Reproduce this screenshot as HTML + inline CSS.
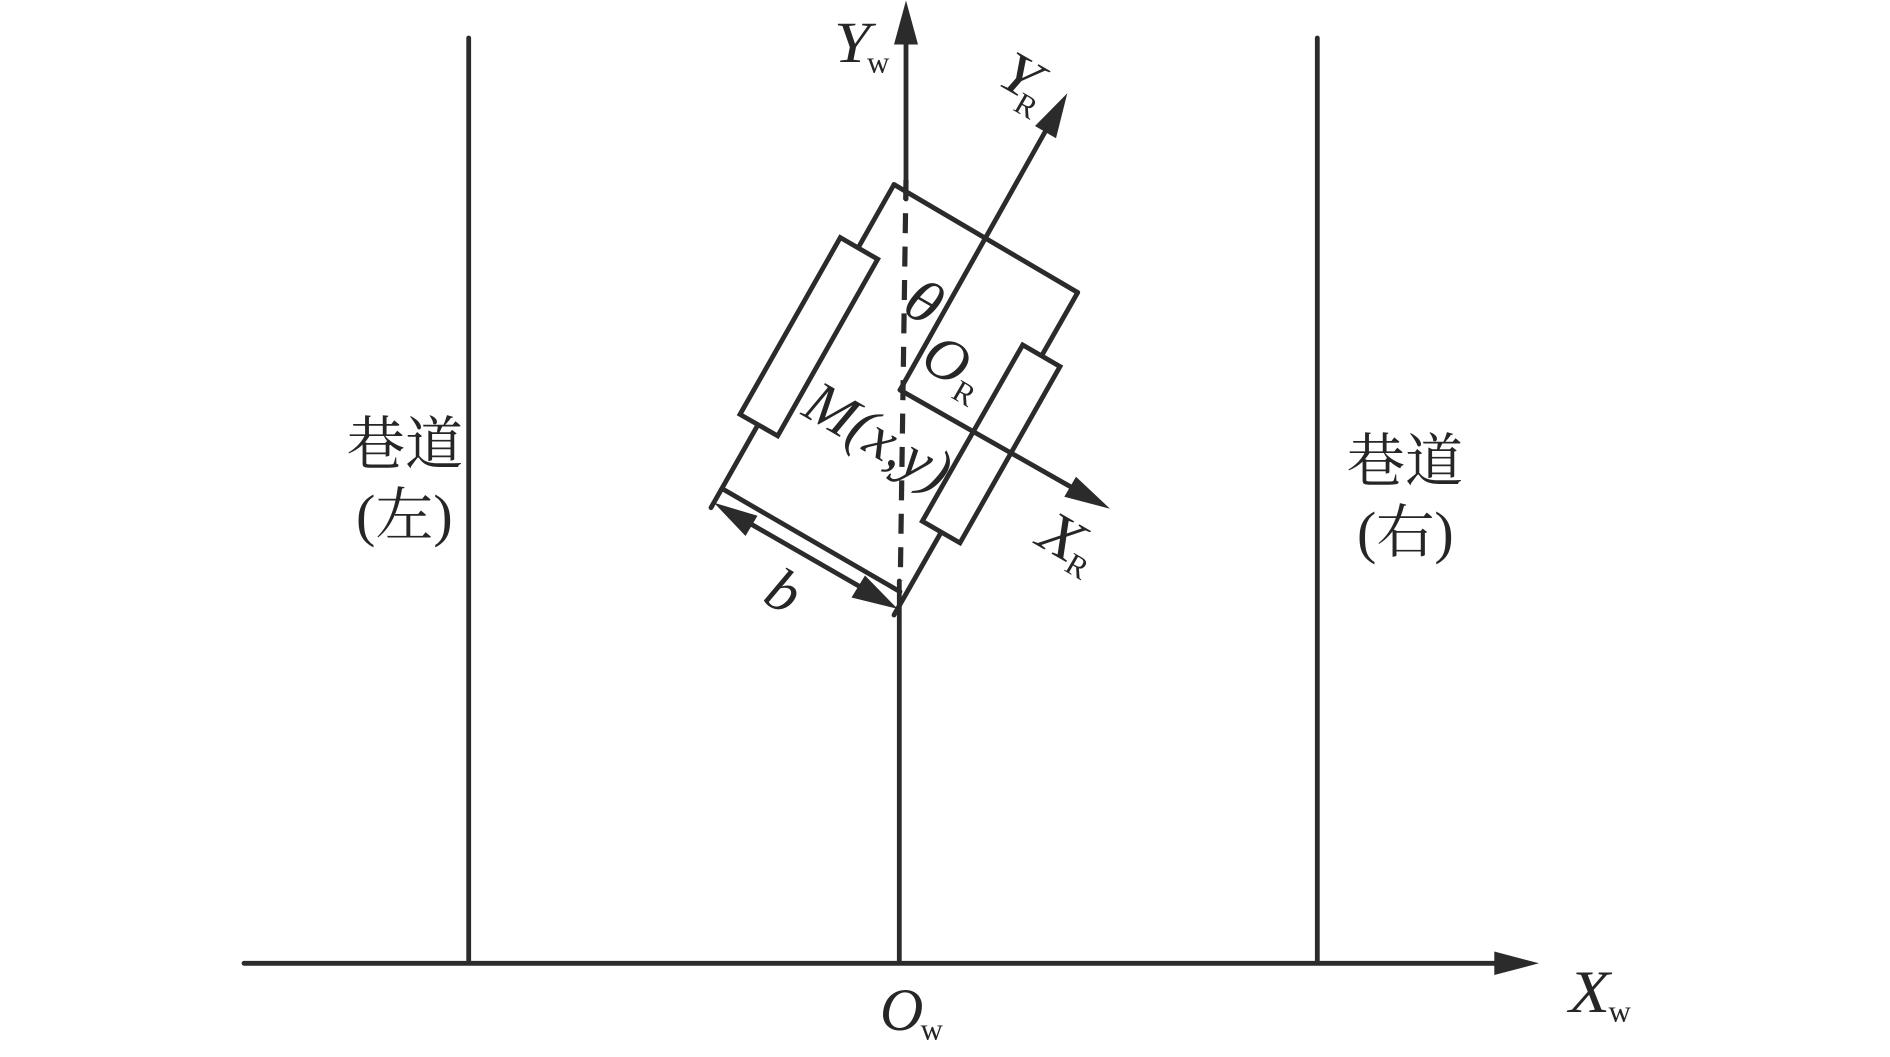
<!DOCTYPE html>
<html>
<head>
<meta charset="utf-8">
<style>
html,body{margin:0;padding:0;background:#fff;width:1890px;height:1057px;overflow:hidden}
svg{display:block}
text{fill:#262626;font-family:"Liberation Serif","Noto Serif CJK SC",serif}
.i{font-style:italic;font-size:58px}
.l{font-style:italic;font-size:60px}
.s{font-size:31px}
.c{font-size:58px;font-family:"Liberation Serif","Noto Serif CJK SC",serif}
line,polyline,polygon.o{fill:none;stroke:#2b2b2b;stroke-width:4.8;stroke-linecap:round;stroke-linejoin:miter}
polygon.a{fill:#2b2b2b;stroke:none}
</style>
</head>
<body>
<svg width="1890" height="1057" viewBox="0 0 1890 1057" xmlns="http://www.w3.org/2000/svg">
<rect width="1890" height="1057" fill="#fff"/>

<!-- world axes and aisle walls -->
<line x1="244" y1="963.3" x2="1500" y2="963.3"/>
<polygon class="a" points="1539,963.3 1494.3,951.5 1494.3,975"/>
<line x1="468.7" y1="38" x2="468.7" y2="963"/>
<line x1="1317.3" y1="38" x2="1317.3" y2="963"/>
<line x1="906" y1="40" x2="906" y2="199"/>
<polygon class="a" points="906,0.5 894,44.5 918,44.5"/>
<line x1="899.3" y1="581" x2="899.3" y2="963"/>
<line x1="906" y1="179.8" x2="900.3" y2="581" style="stroke-dasharray:20 13.4;stroke-linecap:butt;stroke-width:5.2"/>

<!-- robot body -->
<line x1="894" y1="184.5" x2="1077.7" y2="292.5"/>
<line x1="894" y1="184.5" x2="711" y2="507.7"/>
<line x1="1077.7" y1="292.5" x2="894" y2="615"/>
<line x1="723.3" y1="489.3" x2="900" y2="591.7"/>

<!-- wheels -->
<polygon class="o" points="840.3,237.6 877.7,259.2 777.7,435.9 740,414.4" style="fill:#fff"/>
<polygon class="o" points="1022.7,344.9 1060,366.5 960,542.9 922.3,521.2" style="fill:#fff"/>

<!-- robot axes -->
<line x1="900" y1="390" x2="1045" y2="132"/>
<polygon class="a" points="1067.3,93.3 1035,126 1056,138.3"/>
<line x1="900" y1="390" x2="1071" y2="487"/>
<polygon class="a" points="1110,508.8 1076,476.7 1064.3,496.7"/>

<!-- b dimension -->
<line x1="750" y1="523.5" x2="860" y2="586.7"/>
<polygon class="a" points="714,502.8 757.5,515.7 745.5,536"/>
<polygon class="a" points="897.5,608.8 865,575.5 851.5,597.5"/>

<!-- world labels -->
<text class="i" transform="translate(834,62) scale(1.13,1)">Y</text>
<text class="s" x="867" y="72.5">w</text>
<text class="l" x="880" y="1030">O</text>
<text class="s" x="920.5" y="1039.5">w</text>
<text class="l" transform="translate(1569,1012) scale(1.12,1)">X</text>
<text class="s" x="1608.5" y="1021.5">w</text>

<!-- rotated labels -->
<text class="i" transform="translate(995,83) rotate(30) scale(1.13,1)">Y</text>
<text class="s" transform="translate(1012,109.5) rotate(30)">R</text>
<text class="l" transform="translate(1034,543.5) rotate(30) scale(1.12,1)">X</text>
<text class="s" transform="translate(1063,570) rotate(30)">R</text>
<text class="l" transform="translate(918,366) rotate(30)">O</text>
<text class="s" transform="translate(950,397) rotate(30)">R</text>
<text class="l" transform="translate(900,311) rotate(30) scale(1.1,1)">θ</text>
<text class="l" transform="translate(761,601) rotate(30)">b</text>
<text class="l" transform="translate(800,414) rotate(30)">M(x,y)</text>

<!-- aisle labels -->
<text class="c" x="347" y="464">巷道</text>
<text class="c" x="356" y="535">(左)</text>
<text class="c" x="1347" y="481">巷道</text>
<text class="c" x="1357" y="552">(右)</text>
</svg>
</body>
</html>
